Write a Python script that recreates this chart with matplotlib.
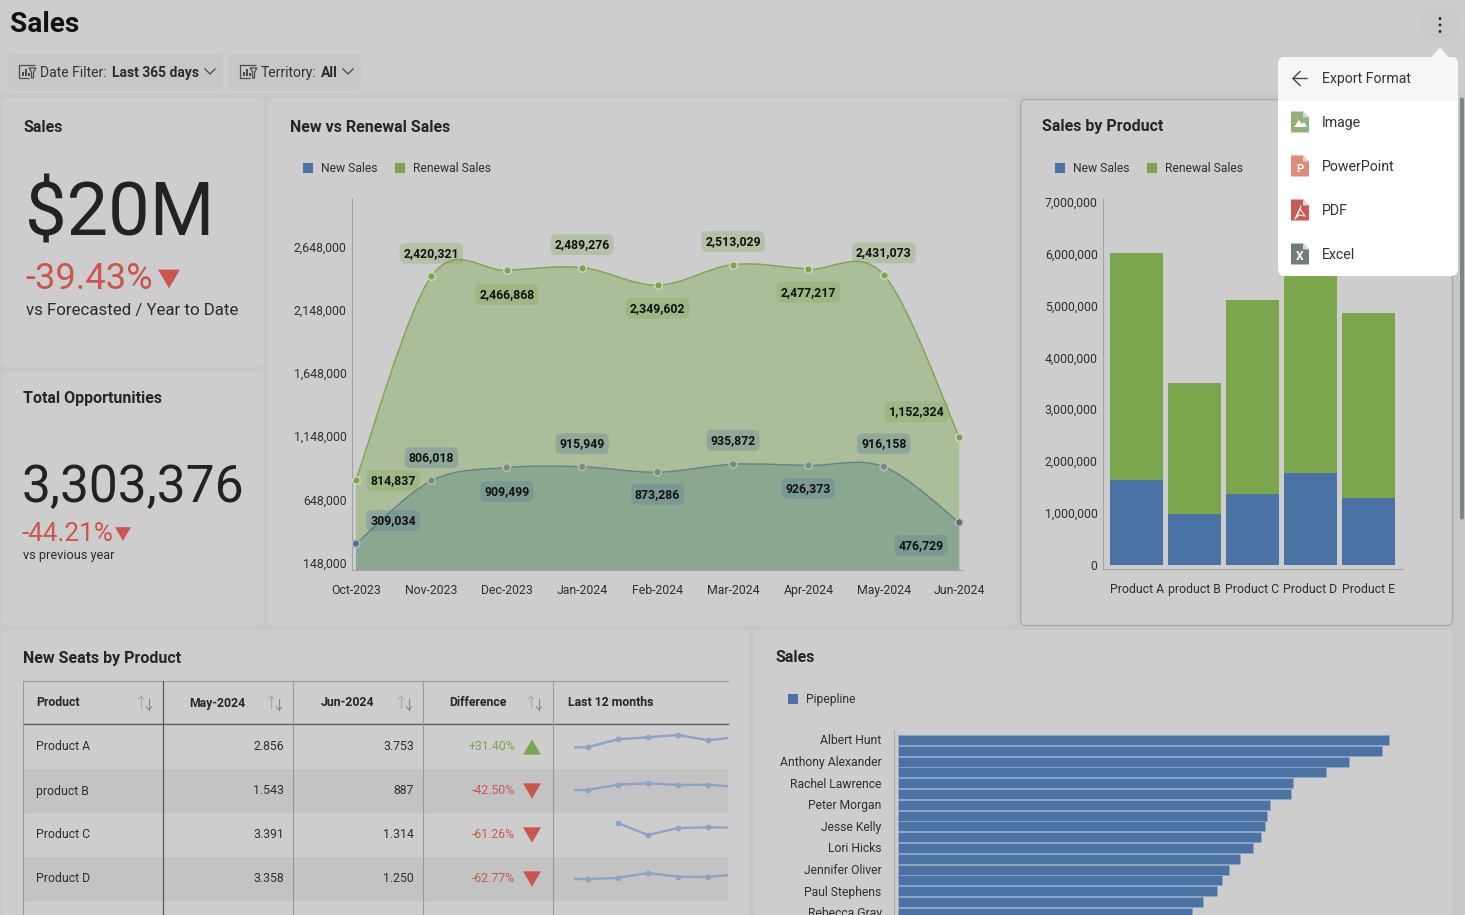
#!/usr/bin/env python3
# Sales dashboard with the export menu open (page dimmed behind the menu)
import numpy as np
import matplotlib; matplotlib.use("Agg")
import matplotlib.pyplot as plt
from matplotlib.patches import FancyBboxPatch, Polygon, Rectangle, Circle, PathPatch
from matplotlib.path import Path
from matplotlib.transforms import ScaledTranslation

plt.rcParams['font.family'] = ['Roboto', 'DejaVu Sans']

months = ["Oct-2023","Nov-2023","Dec-2023","Jan-2024","Feb-2024","Mar-2024","Apr-2024","May-2024","Jun-2024"]
new_sales = [309034,806018,909499,915949,873286,935872,926373,916158,476729]
renewal_sales = [814837,2420321,2466868,2489276,2349602,2513029,2477217,2431073,1152324]
area_ticks = [148000,648000,1148000,1648000,2148000,2648000]

products = ["Product A","product B","Product C","Product D","Product E"]
prod_new = [1640000,990000,1370000,1780000,1300000]
prod_renewal = [4390000,2530000,3750000,4070000,3570000]
prod_ticks = [0,1000000,2000000,3000000,4000000,5000000,6000000,7000000]

reps = ["Albert Hunt","","Anthony Alexander","","Rachel Lawrence","","Peter Morgan","","Jesse Kelly","",
        "Lori Hicks","","Jennifer Oliver","","Paul Stephens","","Rebecca Gray"]
pipeline = [491,484,451,428,395,393,372,369,367,363,355,342,331,324,319,305,294]

table_headers = ["Product","May-2024","Jun-2024","Difference","Last 12 months"]
table_products = ["Product A","product B","Product C","Product D"]
table_may = ["2.856","1.543","3.391","3.358"]
table_jun = ["3.753","887","1.314","1.250"]
table_diff = ["+31.40%","-42.50%","-61.26%","-62.77%"]
spark_a = [21.7,21.7,29.7,31.7,34.0,28.7,32.3]
spark_b = [23.0,23.0,28.3,29.7,28.0,28.3,25.8]
spark_c = [np.nan,np.nan,34.0,22.0,29.0,29.7,29.2]
spark_d = [22.0,22.0,23.0,28.0,24.3,24.0,27.0]

menu_items = ["Image","PowerPoint","PDF","Excel"]

W, H = 1465, 915
BG, GAP = "#cdcdcd", "#c7c7c7"
BLUE, GREEN, RED = "#4a72a5", "#7ba64e", "#c9574f"
INK, TICK = "#262626", "#2e2e2e"
def fs(p): return p*0.72          # css px -> pt at dpi 100

fig = plt.figure(figsize=(W/100, H/100), dpi=100, facecolor=GAP)
bg = fig.add_axes([0,0,1,1], zorder=0); bg.set_xlim(0,W); bg.set_ylim(H,0); bg.axis("off")
top = fig.add_axes([0,0,1,1], zorder=10); top.set_xlim(0,W); top.set_ylim(H,0); top.axis("off"); top.patch.set_alpha(0)

def sub(l, t, r, b, z=2):
    ax = fig.add_axes([l/W, 1-b/H, (r-l)/W, (b-t)/H], zorder=z)
    ax.patch.set_alpha(0)
    return ax
def box(ax, l, t, r, b, fc, ec="none", rad=6, lw=1, z=1):
    ax.add_patch(FancyBboxPatch((l+rad,t+rad), r-l-2*rad, b-t-2*rad, boxstyle=f"round,pad={rad},rounding_size={rad}",
                                fc=fc, ec=ec, lw=lw, zorder=z))
def txt(ax, x, y, s, size, w="normal", c=INK, ha="left", z=5):
    return ax.text(x, y+1, s, fontsize=fs(size), fontweight=w, color=c, ha=ha, va="center", zorder=z)
def tri(ax, x, y, up, c, s=9):
    d = -1 if up else 1
    ax.add_patch(Polygon([(x-s,y-d*s*0.85),(x+s,y-d*s*0.85),(x,y+d*s*0.85)], fc=c, ec="none", zorder=5))
def nudge_y(ax, px):
    # tick labels sit a little high in the original
    for lab in ax.get_yticklabels():
        lab.set_transform(lab.get_transform()+ScaledTranslation(0, px/100, fig.dpi_scale_trans))

# page frame
bg.add_patch(Rectangle((0,0), W, 93, fc=BG, ec="none"))
for p in [(2,98,264,367),(2,372,264,625),(268,98,1016,625),(1,630,749,930),(754,630,1452,930)]:
    box(bg, *p, BG)
box(bg, 1020.5,99.5,1452.5,625.5, BG, ec="#a9a9a9")
txt(bg, 10, 24, "Sales", 28, "bold", "#111111")

def filter_icon(x):
    bg.add_patch(Polygon([(x+16,65),(x,65),(x,78),(x+10,78)], fc="none", ec="#4b4b4b", lw=.9, closed=False, zorder=5))
    for dx, h in [(3,4),(6,7),(9,3)]:
        bg.add_patch(Rectangle((x+dx,76-h), 2, h, fc="#4b4b4b", ec="none", zorder=5))
    bg.add_patch(Polygon([(x+10,68),(x+17,68),(x+14.5,72),(x+14.5,78),(x+12.5,78),(x+12.5,72)], fc="none", ec="#4b4b4b", lw=.9, zorder=5))
def chev(x, y):
    bg.plot([x-5,x,x+5],[y-3,y+2,y-3], color="#444444", lw=.9, zorder=5)

box(bg, 8,54,223,90, "#c6c7c9")
filter_icon(19)
txt(bg, 40, 72, "Date Filter:", 14, c="#333333")
txt(bg, 112, 72, "Last 365 days", 13.9, "bold", "#2b2b2b")
chev(210,72)
box(bg, 228,54,361,90, "#c6c7c9")
filter_icon(240)
txt(bg, 261, 72, "Territory:", 14, c="#333333")
txt(bg, 321, 72, "All", 14, "bold", "#2b2b2b")
chev(348,72)

# KPI cards
txt(bg, 23, 126, "Sales", 16, "bold")
txt(bg, 25, 214, "$20M", 74, c="#222222")
txt(bg, 25, 278, "-39.43%", 36.2, c=RED)
tri(bg, 169, 279, False, RED, 11)
txt(bg, 26, 309, "vs Forecasted / Year to Date", 16.9, c="#2b2b2b")
txt(bg, 23, 397, "Total Opportunities", 16, "bold")
txt(bg, 22, 487, "3,303,376", 51.5, c="#222222")
txt(bg, 22, 533, "-44.21%", 26, c=RED)
tri(bg, 123, 534, False, RED, 8)
txt(bg, 23, 555, "vs previous year", 12.8, c="#2b2b2b")

# New vs Renewal area chart
txt(bg, 290, 126, "New vs Renewal Sales", 16, "bold")
for x, lab, c in [(303,"New Sales",BLUE),(395,"Renewal Sales",GREEN)]:
    bg.add_patch(Rectangle((x,163), 10, 10, fc=c, ec="none", zorder=5))
    txt(bg, x+18, 168, lab, 12.1, c=TICK)

def smooth(xs, ys):
    # catmull-rom through the points, as bezier segments
    xs, ys = np.asarray(xs,float), np.asarray(ys,float)
    v, c = [(xs[0],ys[0])], [Path.MOVETO]
    for i in range(len(xs)-1):
        a, b = max(i-1,0), min(i+2,len(xs)-1)
        v += [(xs[i]+(xs[i+1]-xs[a])/6, ys[i]+(ys[i+1]-ys[a])/6),
              (xs[i+1]-(xs[b]-xs[i])/6, ys[i+1]-(ys[b]-ys[i])/6),
              (xs[i+1],ys[i+1])]
        c += [Path.CURVE4]*3
    return v, c

ax = sub(352,198,963,570)
x = np.arange(len(months))
ax.set_xlim(-0.053,8.05); ax.set_ylim(100600,3039000)
for vals, col, lz, fz in [(new_sales,BLUE,3,2),(renewal_sales,GREEN,3,3)]:
    v, c = smooth(x, vals)
    ax.add_patch(PathPatch(Path(v,c), fc="none", ec=col, lw=1, zorder=lz))
    low = ax.get_ylim()[0]
    ax.add_patch(PathPatch(Path(v+[(x[-1],low),(x[0],low),v[0]], c+[Path.LINETO]*3), fc=col, ec="none", alpha=.4, zorder=fz))
new_cols = [BLUE]+["#7c8a86"]*7+["#58708a"]
ax.scatter(x, new_sales, s=30, c=new_cols, edgecolors="#b5c2ac", linewidths=1, zorder=6, clip_on=False)
ax.scatter(x, renewal_sales, s=30, c=GREEN, edgecolors="#d3dbc8", linewidths=1, zorder=6, clip_on=False)
green_off = [(37,-1),(0,23),(0,-24),(0,23),(0,-23),(0,23),(0,-23),(0,22),(-42,25)]
blue_off = [(37,23),(0,23),(0,-24),(0,23),(0,-22),(0,24),(0,-23),(0,23),(-38,-23)]
for vals, offs, col in [(renewal_sales,green_off,GREEN),(new_sales,blue_off,"#4f7a98")]:
    for i, val in enumerate(vals):
        ax.annotate(f"{val:,}", (x[i],val), xytext=(offs[i][0]*.72,offs[i][1]*.72), textcoords="offset points",
                    ha="center", va="center", fontsize=fs(12.2), fontweight=600, color="#111111", zorder=8,
                    bbox=dict(boxstyle="round,pad=0.32,rounding_size=0.45", fc=col, ec="none", alpha=.3))
for s in ["top","right"]: ax.spines[s].set_visible(False)
for s in ["left","bottom"]: ax.spines[s].set_color("#a3a3a3")
ax.set_xticks(x, months); ax.set_yticks(area_ticks, [f"{t:,}" for t in area_ticks])
ax.tick_params(length=0, labelsize=fs(12.3), labelcolor=TICK)
ax.tick_params(axis="y", pad=4); ax.tick_params(axis="x", pad=10)
nudge_y(ax, 1.2)

# Sales by Product stacked bars
txt(bg, 1042, 125, "Sales by Product", 16, "bold")
for xx, lab, c in [(1055,"New Sales",BLUE),(1147,"Renewal Sales",GREEN)]:
    bg.add_patch(Rectangle((xx,163), 10, 10, fc=c, ec="none", zorder=5))
    txt(bg, xx+18, 168, lab, 12.1, c=TICK)
ax = sub(1103.3,198,1401.7,569.3)
ax.set_xlim(-0.579,4.579); ax.set_ylim(-77000,7097000)
ax.bar(products, prod_new, width=.916, color=BLUE, zorder=3)
ax.bar(products, prod_renewal, width=.916, bottom=prod_new, color=GREEN, zorder=3)
for s in ["top","right"]: ax.spines[s].set_visible(False)
for s in ["left","bottom"]: ax.spines[s].set_color("#a3a3a3")
ax.set_yticks(prod_ticks, [f"{t:,}" for t in prod_ticks])
ax.tick_params(length=0, labelsize=fs(12.3), labelcolor=TICK)
ax.tick_params(axis="y", pad=4); ax.tick_params(axis="x", pad=10)
nudge_y(ax, 0.8)

# table
txt(bg, 23, 657, "New Seats by Product", 16, "bold")
cols = [22.5,163,293,423,553]
for t in [769,857]:
    bg.add_patch(Rectangle((23,t), 705, 44, fc="#c3c3c3", ec="none", zorder=1))
bg.plot([23,728],[681,681], color="#9a9a9a", lw=.8, zorder=4)
bg.plot([23,728],[724,724], color="#5f5f5f", lw=1, zorder=4)
for i, cx in enumerate(cols):
    bg.plot([cx,cx],[681,915], color="#5a5a5a" if i==1 else "#9a9a9a", lw=.9 if i==1 else .8, zorder=4)
head_x = [36,217.5,347.5,477.5,568]
for i, h in enumerate(table_headers):
    txt(bg, head_x[i], 702, h, 12.3, "bold", ha="center" if i in (1,2,3) else "left")
for rx in [145,275,405,535]:
    bg.plot([rx-4,rx-4],[696,708], color="#a8a8a8", lw=.8, zorder=5)
    bg.plot([rx-6.5,rx-4,rx-1.5],[699,696,699], color="#a8a8a8", lw=.8, zorder=5)
    bg.plot([rx+4,rx+4],[699,710], color="#8a8a8a", lw=.8, zorder=5)
    bg.plot([rx+1.5,rx+4,rx+6.5],[707,710,707], color="#8a8a8a", lw=.8, zorder=5)
for r in range(4):
    y = 746+44*r
    txt(bg, 36, y, table_products[r], 12.3, c=TICK)
    txt(bg, 284, y, table_may[r], 12.3, c=TICK, ha="right")
    txt(bg, 414, y, table_jun[r], 12.3, c=TICK, ha="right")
    up = table_diff[r].startswith("+")
    txt(bg, 515, y, table_diff[r], 12.3, c=GREEN if up else RED, ha="right")
    tri(bg, 532, y+1, up, GREEN if up else RED, 9)
for r, vals in enumerate([spark_a,spark_b,spark_c,spark_d]):
    ax = sub(574,725+44*r,728,769+44*r,z=3)
    ax.set_xlim(0.553,5.652); ax.set_ylim(0,44); ax.axis("off")
    ax.plot(range(7), vals, color="#8da3c4", lw=1.7, marker="o", ms=4.2, mew=0)

# Sales horizontal bars
txt(bg, 775, 656, "Sales", 16, "bold")
bg.add_patch(Rectangle((788,694), 10, 10, fc=BLUE, ec="none", zorder=5))
txt(bg, 806, 699, "Pipepline", 12.1, c=TICK)
ax = sub(893.5,730,1439,915)
ypos = np.arange(len(reps))
ax.barh(ypos, pipeline, height=.92, left=0, color=BLUE, edgecolor="#93a6bf", lw=.5)
ax.set_xlim(-4,541.5); ax.set_ylim(16.2,-0.926)
for s in ["top","right","bottom"]: ax.spines[s].set_visible(False)
ax.spines["left"].set_color("#a9a9a9")
ax.set_xticks([]); ax.set_yticks(ypos, reps)
ax.tick_params(length=0, labelsize=fs(12.1), labelcolor=TICK, pad=8.5)
nudge_y(ax, 0.6)

# scrollbar and export menu
top.add_patch(FancyBboxPatch((1460.5,98), 3, 421, boxstyle="round,pad=0.5,rounding_size=2", fc="#7b8680", ec="none"))
top.add_patch(Circle((1440,25), 20, fc="#cbcbcb", ec="none"))
for yy in [18.5,25,31.5]:
    top.add_patch(Circle((1440,yy), 1.4, fc="#1d1d1d", ec="none"))
top.add_patch(Polygon([(1431,57.5),(1440,47.5),(1449,57.5)], fc="#f5f6f8", ec="none"))
box(top, 1278,57,1458,276, "#ffffff", rad=7)
top.add_patch(Rectangle((1278,64), 180, 37, fc="#f5f6f8", ec="none", zorder=2))
box(top, 1278,57,1458,80, "#f5f6f8", rad=7, z=2)
top.plot([1307,1293,1300],[78.5,78.5,71.5], color="#444444", lw=1, zorder=5)
top.plot([1293,1300],[78.5,85.5], color="#444444", lw=1, zorder=5)
txt(top, 1322, 78, "Export Format", 14.1, c="#333333")
icon_cols = ["#8fb27a","#de8c79","#c95a55","#6f7f78"]
for i, item in enumerate(menu_items):
    y = 122+44*i
    top.add_patch(Polygon([(1291,y-10.5),(1303,y-10.5),(1309,y-4.5),(1309,y+10.5),(1291,y+10.5)], fc=icon_cols[i], ec="none", zorder=4))
    top.add_patch(Polygon([(1303,y-10.5),(1309,y-4.5),(1303,y-4.5)], fc="#d9d9d9", ec="none", zorder=5))
    txt(top, 1322, y, item, 14.1, c="#333333")
top.add_patch(Polygon([(1294,127),(1299,120),(1302,124),(1304,122),(1307,127)], fc="#ffffff", ec="none", zorder=6))
top.add_patch(Circle((1297,119), 1.2, fc="#de8c79", ec="none", zorder=6))
txt(top, 1300, 167.5, "P", 11, "bold", "#ffffff", ha="center", z=6)
top.plot([1295,1300,1305,1299,1296,1301],[219,209,216,215,218,206], color="#f3e3e2", lw=.9, zorder=6)
txt(top, 1300, 255.5, "X", 12, "bold", "#ffffff", ha="center", z=6)

fig.savefig("out.png", dpi=100, facecolor=GAP)
